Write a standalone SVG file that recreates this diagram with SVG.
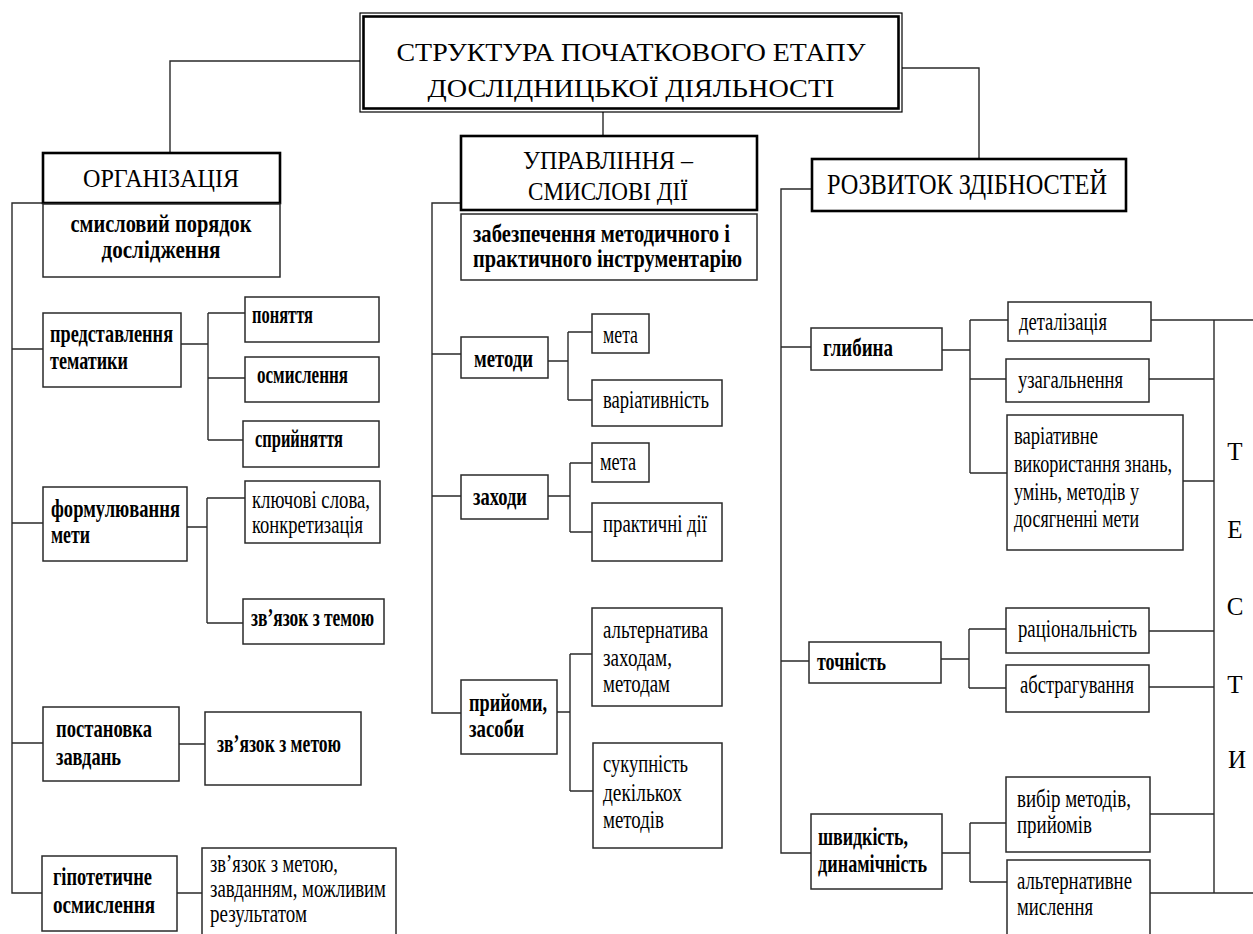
<svg xmlns="http://www.w3.org/2000/svg" width="1253" height="934" viewBox="0 0 1253 934">
<style>
.bx{fill:#fff;stroke:#2a2a2a;stroke-width:1.5}
.bh{fill:#fff;stroke:#000;stroke-width:2.6}
.c{fill:none;stroke:#2a2a2a;stroke-width:1.4}
text{font-family:"Liberation Serif","Times New Roman",serif;fill:#000;font-size:25px}
.b{font-weight:bold}
.h{font-size:30px}
.m{text-anchor:middle}
</style>
<rect width="1253" height="934" fill="#fff"/>
<g id="connectors">
<path class="c" d="M360 61H170V153M603 112V136M902 68H979V159"/>
<path class="c" d="M43 203H12V893H42M12 349H43M12 523H43M12 743H43M181 344H208M208 313V440M208 313H245M208 378H245M208 440H243M187 527H207M207 498V623M207 498H245M207 623H243M179 744H205M177 893H202"/>
<path class="c" d="M461 203H432V713H461M432 354H461M432 496H461M548 361H568M568 332V400M568 332H592M568 400H592M548 496H570M570 463V532M570 463H592M570 532H592M557 712H570M570 654V791M570 654H592M570 791H593"/>
<path class="c" d="M812 189H781V853H811M781 347H811M781 661H809M942 350H970M970 320V473M970 320H1008M970 379H1006M970 473H1007M941 659H969M969 629V688M969 629H1006M969 688H1006M942 853H970M970 823V882M970 823H1006M970 882H1007"/>
<path class="c" d="M1151 320H1253M1149 379H1214M1183 481H1214M1149 631H1214M1149 687H1214M1150 814H1214M1150 893H1253M1214 320V893"/>
</g>
<g id="title">
<rect x="360" y="13" width="542" height="99" fill="#fff" stroke="#000" stroke-width="1.2"/>
<rect x="363.5" y="16.5" width="535" height="92" fill="none" stroke="#000" stroke-width="2.6"/>
<text class="m" x="631" y="61" font-size="36" textLength="469" lengthAdjust="spacingAndGlyphs">СТРУКТУРА ПОЧАТКОВОГО ЕТАПУ</text>
<text class="m" x="631" y="97" font-size="36" textLength="407" lengthAdjust="spacingAndGlyphs">ДОСЛІДНИЦЬКОЇ ДІЯЛЬНОСТІ</text>
</g>
<g id="org-head"><rect class="bh" x="43" y="153" width="237" height="50"/><text class="m" x="161" y="187" font-size="28" textLength="156" lengthAdjust="spacingAndGlyphs">ОРГАНІЗАЦІЯ</text></g>
<g id="org-desc"><rect class="bx" x="43" y="204" width="237" height="73"/><text class="b m" x="161" y="232" textLength="181" lengthAdjust="spacingAndGlyphs">смисловий порядок</text><text class="b m" x="161" y="258" textLength="119" lengthAdjust="spacingAndGlyphs">дослідження</text></g>
<g id="pred"><rect class="bx" x="43" y="313" width="138" height="74"/><text class="b" x="50" y="342" textLength="123" lengthAdjust="spacingAndGlyphs">представлення</text><text class="b" x="50" y="369" textLength="78" lengthAdjust="spacingAndGlyphs">тематики</text></g>
<g id="ponyattya"><rect class="bx" x="245" y="297" width="134" height="45"/><text class="b" x="252" y="323" textLength="61" lengthAdjust="spacingAndGlyphs">поняття</text></g>
<g id="osmyslennya1"><rect class="bx" x="245" y="357" width="134" height="45"/><text class="b" x="257" y="383" textLength="91" lengthAdjust="spacingAndGlyphs">осмислення</text></g>
<g id="spryinyattya"><rect class="bx" x="243" y="421" width="136" height="46"/><text class="b" x="255" y="447" textLength="88" lengthAdjust="spacingAndGlyphs">сприйняття</text></g>
<g id="formul"><rect class="bx" x="43" y="487" width="144" height="74"/><text class="b" x="51" y="517" textLength="129" lengthAdjust="spacingAndGlyphs">формулювання</text><text class="b" x="51" y="543" textLength="39" lengthAdjust="spacingAndGlyphs">мети</text></g>
<g id="klyuchovi"><rect class="bx" x="245" y="481" width="135" height="62"/><text x="252" y="508" textLength="118" lengthAdjust="spacingAndGlyphs">ключові слова,</text><text x="252" y="533" textLength="111" lengthAdjust="spacingAndGlyphs">конкретизація</text></g>
<g id="zv-temoyu"><rect class="bx" x="243" y="599" width="141" height="45"/><text class="b" x="251" y="626" textLength="123" lengthAdjust="spacingAndGlyphs">зв’язок з темою</text></g>
<g id="postanovka"><rect class="bx" x="43" y="707" width="136" height="74"/><text class="b" x="56" y="737" textLength="96" lengthAdjust="spacingAndGlyphs">постановка</text><text class="b" x="56" y="765" textLength="65" lengthAdjust="spacingAndGlyphs">завдань</text></g>
<g id="zv-metoyu"><rect class="bx" x="205" y="712" width="156" height="73"/><text class="b" x="217" y="752" textLength="124" lengthAdjust="spacingAndGlyphs">зв’язок з метою</text></g>
<g id="hipotetychne"><rect class="bx" x="42" y="856" width="135" height="75"/><text class="b" x="53" y="885" textLength="99" lengthAdjust="spacingAndGlyphs">гіпотетичне</text><text class="b" x="53" y="913" textLength="102" lengthAdjust="spacingAndGlyphs">осмислення</text></g>
<g id="zv-metoyu-zavd"><rect class="bx" x="202" y="848" width="194" height="90"/><text x="210" y="872" font-size="23" textLength="128" lengthAdjust="spacingAndGlyphs">зв’язок з метою,</text><text x="210" y="897" font-size="23" textLength="176" lengthAdjust="spacingAndGlyphs">завданням, можливим</text><text x="210" y="922" font-size="23" textLength="97" lengthAdjust="spacingAndGlyphs">результатом</text></g>
<g id="upr-head"><rect class="bh" x="461" y="136" width="296" height="74"/><text class="m" x="608" y="169" font-size="28" textLength="170" lengthAdjust="spacingAndGlyphs">УПРАВЛІННЯ –</text><text class="m" x="608" y="200" font-size="28" textLength="160" lengthAdjust="spacingAndGlyphs">СМИСЛОВІ ДІЇ</text></g>
<g id="zabezp"><rect class="bx" x="461" y="214" width="296" height="66"/><text class="b" x="473" y="242" textLength="257" lengthAdjust="spacingAndGlyphs">забезпечення методичного і</text><text class="b" x="473" y="267" textLength="269" lengthAdjust="spacingAndGlyphs">практичного інструментарію</text></g>
<g id="metody"><rect class="bx" x="461" y="337" width="87" height="41"/><text class="b" x="474" y="367" textLength="59" lengthAdjust="spacingAndGlyphs">методи</text></g>
<g id="meta1"><rect class="bx" x="592" y="314" width="57" height="39"/><text x="603" y="343" textLength="35" lengthAdjust="spacingAndGlyphs">мета</text></g>
<g id="variatyvnist"><rect class="bx" x="592" y="380" width="130" height="46"/><text x="603" y="408" textLength="106" lengthAdjust="spacingAndGlyphs">варіативність</text></g>
<g id="zakhody"><rect class="bx" x="461" y="475" width="87" height="44"/><text class="b" x="473" y="505" textLength="54" lengthAdjust="spacingAndGlyphs">заходи</text></g>
<g id="meta2"><rect class="bx" x="592" y="443" width="57" height="39"/><text x="600" y="470" textLength="36" lengthAdjust="spacingAndGlyphs">мета</text></g>
<g id="praktychni"><rect class="bx" x="592" y="503" width="130" height="58"/><text x="603" y="532" textLength="104" lengthAdjust="spacingAndGlyphs">практичні дії</text></g>
<g id="pryiomy"><rect class="bx" x="461" y="680" width="96" height="74"/><text class="b" x="469" y="711" textLength="78" lengthAdjust="spacingAndGlyphs">прийоми,</text><text class="b" x="469" y="737" textLength="55" lengthAdjust="spacingAndGlyphs">засоби</text></g>
<g id="alternatyva"><rect class="bx" x="592" y="608" width="130" height="98"/><text x="603" y="638" textLength="105" lengthAdjust="spacingAndGlyphs">альтернатива</text><text x="603" y="666" textLength="69" lengthAdjust="spacingAndGlyphs">заходам,</text><text x="603" y="692" textLength="67" lengthAdjust="spacingAndGlyphs">методам</text></g>
<g id="sukupnist"><rect class="bx" x="593" y="743" width="129" height="105"/><text x="603" y="772" textLength="85" lengthAdjust="spacingAndGlyphs">сукупність</text><text x="603" y="801" textLength="79" lengthAdjust="spacingAndGlyphs">декількох</text><text x="603" y="828" textLength="61" lengthAdjust="spacingAndGlyphs">методів</text></g>
<g id="rozv-head"><rect class="bh" x="812" y="159" width="314" height="52"/><text class="h m" x="967" y="194" textLength="280" lengthAdjust="spacingAndGlyphs">РОЗВИТОК ЗДІБНОСТЕЙ</text></g>
<g id="hlybyna"><rect class="bx" x="811" y="328" width="131" height="42"/><text class="b" x="823" y="356" textLength="70" lengthAdjust="spacingAndGlyphs">глибина</text></g>
<g id="detalizatsiya"><rect class="bx" x="1008" y="302" width="143" height="39"/><text x="1019" y="330" textLength="88" lengthAdjust="spacingAndGlyphs">деталізація</text></g>
<g id="uzahalnennya"><rect class="bx" x="1006" y="359" width="143" height="43"/><text x="1018" y="388" textLength="105" lengthAdjust="spacingAndGlyphs">узагальнення</text></g>
<g id="variatyvne"><rect class="bx" x="1007" y="415" width="176" height="135"/><text x="1014" y="444" font-size="23" textLength="84" lengthAdjust="spacingAndGlyphs">варіативне</text><text x="1014" y="472" font-size="23" textLength="158" lengthAdjust="spacingAndGlyphs">використання знань,</text><text x="1014" y="500" font-size="23" textLength="125" lengthAdjust="spacingAndGlyphs">умінь, методів у</text><text x="1014" y="527" font-size="23" textLength="125" lengthAdjust="spacingAndGlyphs">досягненні мети</text></g>
<g id="tochnist"><rect class="bx" x="809" y="642" width="132" height="41"/><text class="b" x="817" y="670" textLength="69" lengthAdjust="spacingAndGlyphs">точність</text></g>
<g id="ratsionalnist"><rect class="bx" x="1006" y="608" width="143" height="45"/><text x="1018" y="637" textLength="119" lengthAdjust="spacingAndGlyphs">раціональність</text></g>
<g id="abstrahuvannya"><rect class="bx" x="1006" y="665" width="143" height="47"/><text x="1020" y="693" textLength="114" lengthAdjust="spacingAndGlyphs">абстрагування</text></g>
<g id="shvydkist"><rect class="bx" x="811" y="814" width="131" height="75"/><text class="b" x="818" y="845" textLength="90" lengthAdjust="spacingAndGlyphs">швидкість,</text><text class="b" x="818" y="872" textLength="109" lengthAdjust="spacingAndGlyphs">динамічність</text></g>
<g id="vybir"><rect class="bx" x="1006" y="777" width="144" height="75"/><text x="1017" y="807" textLength="114" lengthAdjust="spacingAndGlyphs">вибір методів,</text><text x="1017" y="833" textLength="75" lengthAdjust="spacingAndGlyphs">прийомів</text></g>
<g id="alt-myslennya"><rect class="bx" x="1007" y="860" width="143" height="80"/><text x="1017" y="889" textLength="115" lengthAdjust="spacingAndGlyphs">альтернативне</text><text x="1017" y="915" textLength="76" lengthAdjust="spacingAndGlyphs">мислення</text></g>
<g id="testy">
<text class="m" x="1235" y="460" font-size="31">Т</text>
<text class="m" x="1235" y="538" font-size="31">Е</text>
<text class="m" x="1235" y="615" font-size="31">С</text>
<text class="m" x="1235" y="693" font-size="31">Т</text>
<text class="m" x="1237" y="768" font-size="31">И</text>
</g>
</svg>
